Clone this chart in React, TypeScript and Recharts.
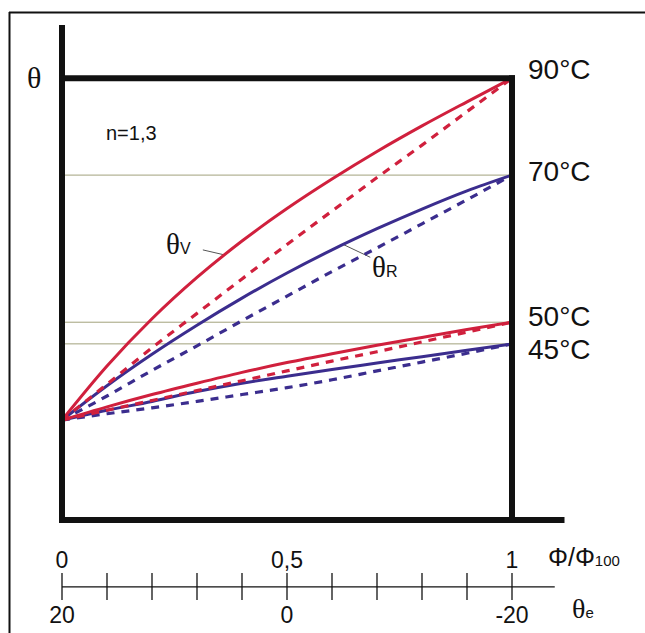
import React from 'react';
import { LineChart, Line, XAxis, YAxis, ReferenceLine } from 'recharts';

// Φ/Φ100 positions along the bottom scale
const PHI = [0, 0.1, 0.2, 0.3, 0.4, 0.5, 0.6, 0.7, 0.8, 0.9, 1];

// temperature curves (vertical value in chart units)
const V90 = [20.3, 31.3, 40.9, 49.3, 56.7, 63.3, 69.3, 74.9, 80.1, 85.0, 89.8];
const V90_DASH = [20.3, 27.6, 35.0, 42.0, 49.0, 56.0, 62.8, 69.6, 76.2, 83.0, 89.8];
const R70 = [20.3, 27.3, 33.7, 39.6, 45.1, 50.2, 54.9, 59.2, 63.2, 66.9, 70.1];
const R70_DASH = [20.3, 25.2, 30.4, 35.4, 40.5, 45.5, 50.5, 55.3, 60.2, 65.1, 70.1];
const V50 = [20.3, 23.0, 25.5, 27.8, 30.0, 32.0, 33.8, 35.5, 37.1, 38.7, 40.2];
const V50_DASH = [20.3, 22.3, 24.3, 26.3, 28.3, 30.3, 32.3, 34.2, 36.2, 38.2, 40.2];
const R45 = [20.3, 22.3, 24.1, 26.1, 27.8, 29.2, 30.6, 31.9, 33.2, 34.5, 35.8];
const R45_DASH = [20.3, 21.6, 22.8, 24.1, 25.5, 26.9, 28.5, 30.3, 32.1, 33.9, 35.8];

// design temperature levels and their labels
const LEVELS = [89.8, 70.1, 40.2, 35.8];
const LEVEL_LABELS = ['90°C', '70°C', '50°C', '45°C'];

// bottom scale labels
const PHI_LABELS = ['0', '', '', '', '', '0,5', '', '', '', '', '1'];
const THETA_E_LABELS = ['20', '', '', '', '', '0', '', '', '', '', '-20'];

const data = PHI.map((phi, i) => ({
  phi,
  v90: V90[i],
  v90d: V90_DASH[i],
  r70: R70[i],
  r70d: R70_DASH[i],
  v50: V50[i],
  v50d: V50_DASH[i],
  r45: R45[i],
  r45d: R45_DASH[i],
}));

const RED = '#d0203d';
const BLUE = '#3b2d8e';
const OLIVE = '#a2a27c';
const INK = '#111';
const SANS = '"Liberation Sans", Arial, sans-serif';
const SERIF = '"Liberation Serif", "Times New Roman", serif';

const LEVEL_NUDGE = [-9, -4, -6, 6];

const ScaleTick = (props: any) => {
  const { x, y, index } = props;
  return (
    <g>
      <line x1={x} x2={x} y1={y + 53} y2={y + 80} stroke={INK} strokeWidth={1.3} />
      {PHI_LABELS[index] && (
        <text x={x} y={y + 48} textAnchor="middle" fontSize={23} fontFamily={SANS} fill={INK}>
          {PHI_LABELS[index]}
        </text>
      )}
      {THETA_E_LABELS[index] && (
        <text x={x} y={y + 103} textAnchor="middle" fontSize={23} fontFamily={SANS} fill={INK}>
          {THETA_E_LABELS[index]}
        </text>
      )}
    </g>
  );
};

const LevelTick = (props: any) => {
  const { x, y, index } = props;
  return (
    <text
      x={x + 16}
      y={y + LEVEL_NUDGE[index]}
      dominantBaseline="central"
      fontSize={28}
      fontFamily={SANS}
      fill={INK}
    >
      {LEVEL_LABELS[index]}
    </text>
  );
};

export default function App() {
  return (
    <div style={{ position: 'absolute', left: 0, top: 0, width: 645, height: 633, background: '#fff' }}>
      <LineChart width={645} height={633} data={data} margin={{ top: 28, right: 0, bottom: 0, left: 62 }}>
        <XAxis
          dataKey="phi"
          type="number"
          domain={[0, 1]}
          ticks={PHI}
          interval={0}
          height={113}
          axisLine={false}
          tickLine={false}
          tickSize={0}
          tickMargin={0}
          tick={<ScaleTick />}
        />
        <YAxis
          orientation="right"
          type="number"
          domain={[0, 100]}
          ticks={LEVELS}
          interval={0}
          width={133}
          axisLine={false}
          tickLine={false}
          tickSize={0}
          tickMargin={0}
          tick={<LevelTick />}
        />

        {LEVELS.slice(1).map((lv) => (
          <ReferenceLine key={lv} y={lv} stroke={OLIVE} strokeWidth={1} />
        ))}

        {/* bottom scale line */}
        <ReferenceLine
          segment={[{ x: 0, y: -13.6 }, { x: 1.095, y: -13.6 }]}
          stroke={INK}
          strokeWidth={1.3}
          ifOverflow="visible"
        />

        {/* annotation pointers */}
        <ReferenceLine segment={[{ x: 0.313, y: 54.9 }, { x: 0.36, y: 53.9 }]} stroke="#555" strokeWidth={1} />
        <ReferenceLine segment={[{ x: 0.625, y: 56.0 }, { x: 0.685, y: 53.4 }]} stroke="#555" strokeWidth={1} />

        <Line dataKey="r70" type="monotone" stroke={BLUE} strokeWidth={3} dot={false} isAnimationActive={false} />
        <Line dataKey="r70d" type="monotone" stroke={BLUE} strokeWidth={3.2} strokeDasharray="8 7" dot={false} isAnimationActive={false} />
        <Line dataKey="r45" type="monotone" stroke={BLUE} strokeWidth={3} dot={false} isAnimationActive={false} />
        <Line dataKey="r45d" type="monotone" stroke={BLUE} strokeWidth={3.2} strokeDasharray="8 7" dot={false} isAnimationActive={false} />
        <Line dataKey="v90" type="monotone" stroke={RED} strokeWidth={3} dot={false} isAnimationActive={false} />
        <Line dataKey="v50" type="monotone" stroke={RED} strokeWidth={3} dot={false} isAnimationActive={false} />
        <Line dataKey="v90d" type="monotone" stroke={RED} strokeWidth={3.2} strokeDasharray="8 7" dot={false} isAnimationActive={false} />
        <Line dataKey="v50d" type="monotone" stroke={RED} strokeWidth={3.2} strokeDasharray="8 7" dot={false} isAnimationActive={false} />

        {/* heavy frame */}
        <ReferenceLine x={0} stroke={INK} strokeWidth={6} strokeLinecap="square" ifOverflow="visible" />
        <ReferenceLine segment={[{ x: 0, y: 89.8 }, { x: 1, y: 89.8 }]} stroke={INK} strokeWidth={6} strokeLinecap="square" ifOverflow="visible" />
        <ReferenceLine segment={[{ x: 1, y: 89.8 }, { x: 1, y: 0 }]} stroke={INK} strokeWidth={6} strokeLinecap="square" ifOverflow="visible" />
        <ReferenceLine segment={[{ x: 0, y: 0 }, { x: 1.11, y: 0 }]} stroke={INK} strokeWidth={6} strokeLinecap="square" ifOverflow="visible" />
      </LineChart>

      <svg
        width={645}
        height={633}
        style={{ position: 'absolute', left: 0, top: 0, pointerEvents: 'none' }}
      >
        <line x1={9.5} x2={9.5} y1={12} y2={633} stroke={INK} strokeWidth={2} />
        <line x1={9} x2={645} y1={12.5} y2={12.5} stroke={INK} strokeWidth={2} />
        <text x={27} y={88} fontSize={30} fontFamily={SERIF} fill={INK}>θ</text>
        <text x={106} y={140} fontSize={20} fontFamily={SANS} fill={INK}>n=1,3</text>
        <text x={166} y={254} fontSize={29} fontFamily={SERIF} fill={INK}>
          θ<tspan fontSize={16} fontFamily={SANS}>V</tspan>
        </text>
        <text x={372} y={277} fontSize={29} fontFamily={SERIF} fill={INK}>
          θ<tspan fontSize={16} fontFamily={SANS}>R</tspan>
        </text>
        <text x={548} y={566} fontSize={25} fontFamily={SANS} fill={INK}>
          Φ/Φ<tspan fontSize={15}>100</tspan>
        </text>
        <text x={572} y={618} fontSize={28} fontFamily={SERIF} fill={INK}>
          θ<tspan fontSize={15} fontFamily={SANS}>e</tspan>
        </text>
      </svg>
    </div>
  );
}
